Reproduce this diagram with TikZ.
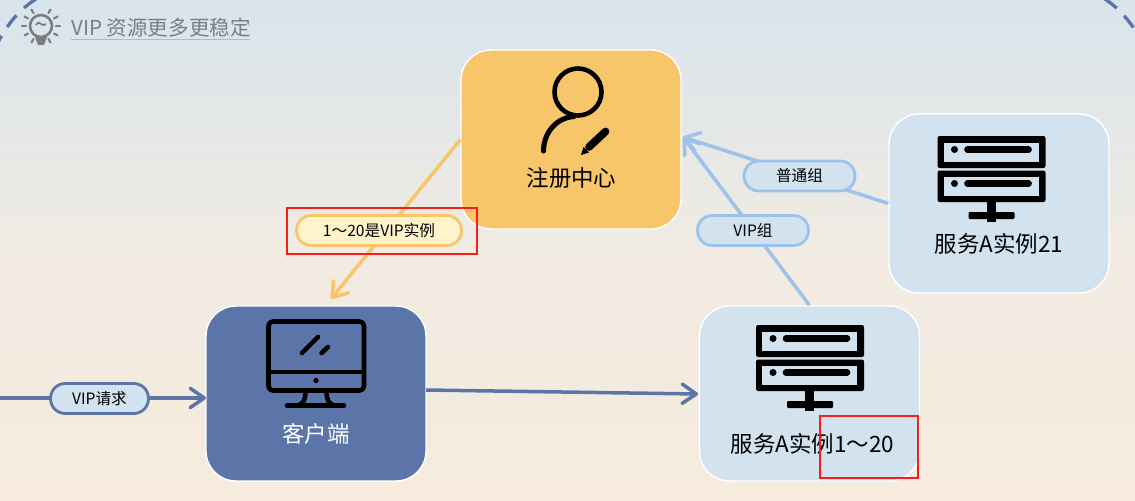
\documentclass[tikz,border=0pt]{standalone}
\usepackage{fontspec}
\setmainfont{Noto Sans CJK SC}
\usepackage{xcolor}
\usetikzlibrary{arrows.meta, positioning, calc}
\definecolor{cBgTop}{RGB}{216,228,236}
\definecolor{cBgMid}{RGB}{241,235,227}
\definecolor{cBgLow}{RGB}{246,235,221}
\definecolor{cOrange}{RGB}{248,198,106}
\definecolor{cOrangeSoft}{RGB}{255,243,204}
\definecolor{cNavy}{RGB}{91,117,168}
\definecolor{cPale}{RGB}{210,226,238}
\definecolor{cSky}{RGB}{157,195,235}
\definecolor{cGrey}{RGB}{122,126,130}
\definecolor{cRedMark}{RGB}{245,30,25}
\tikzset{
	box/.style   ={rectangle, rounded corners=17pt, draw=white, line width=0.8pt, minimum width=4.4cm, minimum height=3.5cm, inner sep=0pt},
	boxtext/.style={font=\fontsize{12.8}{14}\selectfont, inner sep=0pt},
	tag/.style   ={rectangle, rounded corners=8.4pt, line width=1.6pt, minimum width=2.22cm, minimum height=0.6cm, inner sep=0pt, font=\fontsize{8.9}{10}\selectfont},
	flow/.style  ={-{Straight Barb[length=8pt, width=11pt, round]}, line width=2pt},
	redmark/.style={rectangle, draw=cRedMark, line width=1.5pt, inner sep=0pt},
	icon/.style  ={draw=black, line width=2.6pt, line cap=round, line join=round},
	serverpic/.pic={
		\fill[black, rounded corners=1.2pt] (-54,0) rectangle (54,32);
		\fill[black, rounded corners=1.2pt] (-54,34.5) rectangle (54,66);
		\fill[cPale] (-48,7) rectangle (47,26);
		\fill[cPale] (-48,41) rectangle (47,60);
		\foreach \rowy in {13.5,47.5} {
			\fill[black] (-37,\rowy) circle [radius=3.5];
			\draw[black, line width=3.8pt, line cap=round] (-24,\rowy) -- (37,\rowy);
		}
		\fill[black] (-5,66) rectangle (4,86);
		\fill[black, rounded corners=0.6pt] (-23,76) rectangle (23,83);
	},
}
\begin{document}
\begin{tikzpicture}[x=0.02cm, y=-0.02cm]
	\useasboundingbox (0,0) rectangle (1135,500);
	\shade[top color=cBgTop, bottom color=cBgLow, middle color=cBgMid] (0,0) rectangle (1135,500);
	% frame corners
	\draw[cNavy, line width=1.9pt, dash pattern=on 8.5pt off 6pt] (36,-1) .. controls (22,8) and (10,20) .. (-2,42);
	\draw[cNavy, line width=1.9pt, dash pattern=on 8.5pt off 6pt] (1105,-1) .. controls (1118,8) and (1128,18) .. (1140,38);
	% heading
	\draw[cGrey, line width=1.5pt] (41,26) circle [radius=11];
	\draw[cGrey, line width=1pt] (36,25) .. controls (38,22) and (40,22) .. (41,24) .. controls (43,26) and (44,25) .. (46,24);
	\fill[cGrey] (35,37) -- (47,37) -- (44,45) -- (38,45) -- cycle;
	\foreach \raya in {-60,-30,...,60,120,150,...,240}
		\draw[cGrey, line width=1.2pt, line cap=round] ($(41,26)+(\raya:15)$) -- ($(41,26)+(\raya:19)$);
	\node[anchor=west, inner sep=0pt, text=cGrey, font=\fontsize{11.7}{12}\selectfont] (title) at (71,28) {VIP 资源更多更稳定};
	\draw[cGrey!55, line width=0.9pt] (71,39.5) -- (250,39.5);
	% boxes
	\node[box, fill=cOrange, minimum height=3.58cm] (reg) at (571,139.5) {};
	\node[box, fill=cNavy] (client) at (316,393.5) {};
	\node[box, fill=cPale] (svca) at (809.5,393.5) {};
	\node[box, fill=cPale, minimum height=3.58cm] (svcb) at (999,203.5) {};
	\node[boxtext] (reglabel) at (571.5,178) {注册中心};
	\node[boxtext, text=white] (clientlabel) at (316,433.5) {客户端};
	\node[boxtext] (svcalabel) at (812.5,443.5) {服务A实例1～20};
	\node[boxtext] (svcblabel) at (999,243.5) {服务A实例21};
	% free ends
	\coordinate (vipin) at (0,398);
	\coordinate (clientin) at (206,398);
	\coordinate (clientout) at (426,390);
	\coordinate (svcain) at (698,394);
	\coordinate (clienttop) at (331,299);
	\coordinate (regin) at (683,137);
	% connectors
	\draw[flow, cOrange] (reg.west) -- (clienttop);
	\draw[flow, cSky] (svca.north) -- (regin);
	\draw[flow, cSky] (svcb.west) -- (regin);
	\draw[flow, cNavy] (clientout) -- (svcain);
	\draw[flow, cNavy] (vipin) -- (clientin);
	% tags
	\node[tag, draw=cOrange, fill=cOrangeSoft, minimum width=3.3cm] (tagvip) at (379,230.5) {1～20是VIP实例};
	\node[tag, draw=cSky, fill=cPale] (taggroup) at (753,230.5) {VIP组};
	\node[tag, draw=cSky, fill=cPale] (tagplain) at (799.5,176) {普通组};
	\node[tag, draw=cNavy, fill=cPale, minimum width=1.96cm] (tagreq) at (99.5,398.5) {VIP请求};
	% person
	\draw[icon] (578,92) circle [radius=23.5];
	\draw[icon, line width=2.9pt] (574,116.5) .. controls (555,118) and (543.5,134) .. (543.5,151);
	\draw[black, line width=4.4pt, line cap=round] (589,147) -- (605.5,131.5);
	\fill[black] (581,155) -- (583.5,147) -- (589,152.5) -- cycle;
	% monitor
	\draw[icon, rounded corners=2.5pt] (268.5,321.5) rectangle (364,390.5);
	\draw[icon] (268.5,372) -- (364,372);
	\fill[black] (316,380.5) circle [radius=2.6];
	\draw[icon] (302,353) -- (318,337);
	\draw[icon] (321.5,353) -- (328,347);
	\draw[icon] (305.5,391) .. controls (305.5,400) and (303,405) .. (296,405.5);
	\draw[icon] (326.5,391) .. controls (326.5,400) and (329,405) .. (336,405.5);
	\draw[icon] (287,405.5) -- (344,405.5);
	% servers
	\pic at (810,325) {serverpic};
	\pic at (991.5,136) {serverpic};
	% red marks
	\node[redmark, minimum width=3.8cm, minimum height=0.92cm] (markone) at (382,231) {};
	\node[redmark, minimum width=1.96cm, minimum height=1.24cm] (marktwo) at (869,447) {};
\end{tikzpicture}
\end{document}
